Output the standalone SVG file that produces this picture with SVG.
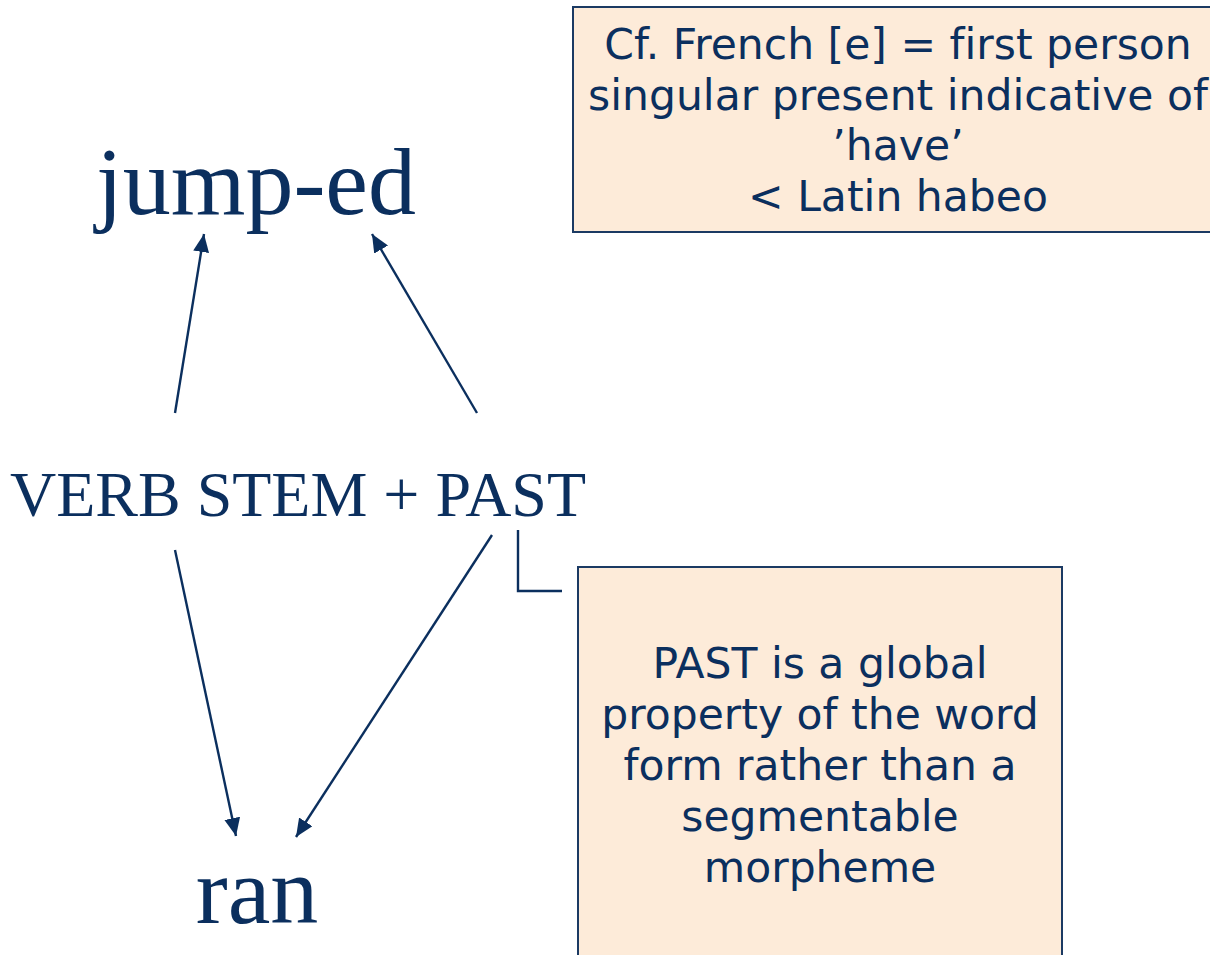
<svg xmlns="http://www.w3.org/2000/svg" width="1210" height="955" viewBox="0 0 1210 955">
<defs>
<style>
.serif{font-family:"Liberation Serif","Times New Roman",serif;fill:#0b2f5e;}
.sans{font-family:"DejaVu Sans",Verdana,sans-serif;font-size:42.5px;fill:#0b2f5e;text-anchor:middle;font-variant-ligatures:none;}
.box{fill:#fdebd9;stroke:#1b3a63;stroke-width:2;}
.conn{stroke:#0b2f5e;stroke-width:2.4;fill:none;}
</style>
<marker id="ah2" viewBox="0 0 18 16" refX="18" refY="8" markerWidth="18" markerHeight="16" markerUnits="userSpaceOnUse" orient="auto">
<path d="M0,0 L18,8 L0,16 z" fill="#0b2f5e"/>
</marker>
</defs>
<rect width="1210" height="955" fill="#ffffff"/>
<g id="connectors">
<line class="conn" x1="175" y1="413" x2="204" y2="234" marker-end="url(#ah2)"/>
<line class="conn" x1="477" y1="413" x2="372" y2="234" marker-end="url(#ah2)"/>
<line class="conn" x1="175" y1="550" x2="236" y2="836" marker-end="url(#ah2)"/>
<line class="conn" x1="492" y1="535" x2="296" y2="837" marker-end="url(#ah2)"/>
<polyline class="conn" points="518,530 518,591 562,591"/>
</g>
<g id="jumped">
<text class="serif" x="256" y="214" font-size="96" text-anchor="middle">jump-ed</text>
</g>
<g id="verbstem">
<text class="serif" x="298" y="516" font-size="64" text-anchor="middle">VERB STEM + PAST</text>
</g>
<g id="ran">
<text class="serif" x="257" y="923" font-size="96" text-anchor="middle">ran</text>
</g>
<g id="note-french">
<rect class="box" x="573" y="7" width="645" height="225"/>
<text class="sans" x="898" y="59">Cf. French [e] = first person</text>
<text class="sans" x="898" y="110">singular present indicative of</text>
<text class="sans" x="898" y="160">’have’</text>
<text class="sans" x="898" y="211">&lt; Latin habeo</text>
</g>
<g id="note-past">
<rect class="box" x="578" y="567" width="484" height="400"/>
<text class="sans" x="820" y="678">PAST is a global</text>
<text class="sans" x="820" y="729">property of the word</text>
<text class="sans" x="820" y="780">form rather than a</text>
<text class="sans" x="820" y="831">segmentable</text>
<text class="sans" x="820" y="882">morpheme</text>
</g>
</svg>
